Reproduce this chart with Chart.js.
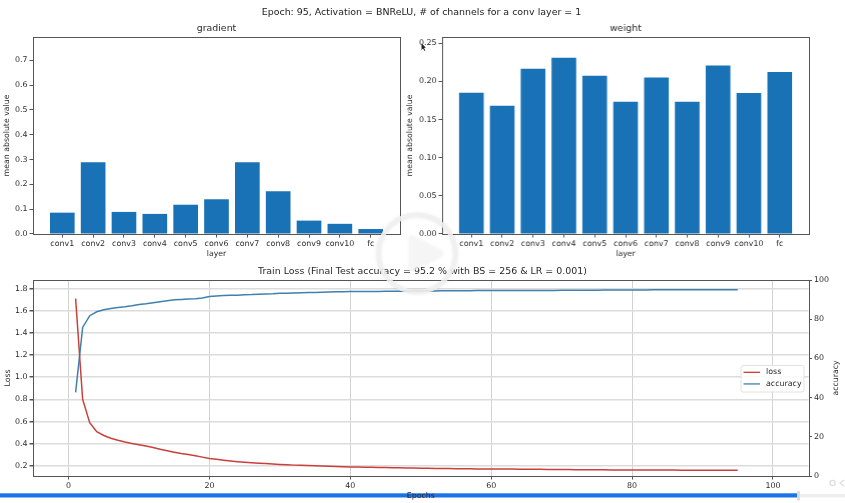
<!DOCTYPE html>
<html><head><meta charset="utf-8">
<script src="https://cdn.jsdelivr.net/npm/chart.js@4"></script>
<style>
html,body{margin:0;padding:0;background:#fff;width:845px;height:503px;overflow:hidden}
canvas{position:absolute;filter:blur(.35px)}
#sup{position:absolute;left:0;width:843px;top:5px;text-align:center;font:9.45px "DejaVu Sans";color:#222;line-height:14px;filter:blur(.3px)}
#ov,#under{position:absolute;left:0;top:0}
</style></head><body>
<svg id="under" width="845" height="503">
<rect x="798" y="494" width="47" height="3.5" fill="#eee"/>
<rect x="0" y="493.3" width="798" height="4.2" fill="#1a73e8"/>
<rect x="797" y="491" width="3" height="9.5" rx="1" fill="#dcdcdc"/>
<circle cx="832.5" cy="483" r="2.6" fill="none" stroke="#ddd" stroke-width="1.3"/>
<path d="M844 480 L840 483 L844 486" fill="none" stroke="#ddd" stroke-width="1.2"/>
</svg>
<div id="sup"></div>
<canvas id="c1"></canvas><canvas id="c2"></canvas><canvas id="c3"></canvas>
<svg id="ov" width="845" height="503">
<defs><filter id="s" x="-20%" y="-20%" width="140%" height="140%"><feGaussianBlur stdDeviation="1.6"/></filter></defs>
<circle cx="417" cy="253.5" r="38.5" fill="none" stroke="#000" stroke-opacity=".07" stroke-width="5" filter="url(#s)"/>
<circle cx="417" cy="253.5" r="38.5" fill="none" stroke="#f0f0f0" stroke-opacity=".88" stroke-width="4.5"/>
<path d="M409 239 Q409 234 414 236.5 L441 250 Q445 253.5 441 257 L414 270.5 Q409 273 409 268 Z" fill="#000" fill-opacity=".05" filter="url(#s)"/>
<path d="M409 239 Q409 234 414 236.5 L441 250 Q445 253.5 441 257 L414 270.5 Q409 273 409 268 Z" fill="#f5f5f5" fill-opacity=".72"/>
<path d="M421.5 43.5 L421.5 50 L423 48.6 L424.6 51 L425.3 50.4 L424 48 L425.8 47.6 Z" fill="#222"/>
</svg>
<script>
const supTitle = "Epoch: 95, Activation = BNReLU, # of channels for a conv layer = 1";
const lossTitle = "Train Loss (Final Test accuracy = 95.2 % with BS = 256 & LR = 0.001)";
const layers = ["conv1","conv2","conv3","conv4","conv5","conv6","conv7","conv8","conv9","conv10","fc"];
const gradientValues = [0.086,0.289,0.089,0.081,0.118,0.140,0.289,0.172,0.054,0.041,0.020];
const weightValues = [0.185,0.168,0.2164,0.2308,0.2072,0.1732,0.205,0.1732,0.2208,0.1845,0.212];
const lossValues = [1.71,0.80,0.59,0.51,0.475,0.45,0.432,0.416,0.403,0.392,
0.38,0.366,0.352,0.338,0.325,0.313,0.303,0.292,0.28,0.268,
0.26,0.252,0.245,0.239,0.234,0.23,0.226,0.222,0.218,0.214,
0.211,0.208,0.206,0.204,0.202,0.2,0.198,0.196,0.194,0.191,
0.19,0.189,0.188,0.187,0.186,0.185,0.184,0.183,0.182,0.18,
0.179,0.178,0.178,0.177,0.176,0.176,0.175,0.174,0.174,0.173,
0.173,0.172,0.172,0.171,0.171,0.17,0.17,0.169,0.169,0.168,
0.168,0.167,0.167,0.166,0.166,0.166,0.165,0.165,0.165,0.164,
0.164,0.164,0.163,0.163,0.163,0.163,0.162,0.162,0.162,0.162,
0.162,0.161,0.161,0.161,0.161];
const accuracyValues = [42.7,75.8,81.8,83.8,84.8,85.5,86.0,86.4,86.9,87.5,
87.9,88.4,88.9,89.4,89.9,90.1,90.3,90.5,90.8,91.6,
91.9,92.1,92.2,92.3,92.5,92.6,92.8,92.9,93.0,93.2,
93.3,93.4,93.5,93.6,93.7,93.8,93.9,94.0,94.0,94.1,
94.1,94.2,94.2,94.2,94.3,94.3,94.3,94.3,94.4,94.4,
94.4,94.4,94.5,94.5,94.5,94.5,94.5,94.6,94.6,94.6,
94.6,94.6,94.6,94.7,94.7,94.7,94.7,94.7,94.7,94.8,
94.8,94.8,94.8,94.8,94.8,94.9,94.9,94.9,94.9,94.9,
94.9,94.9,95.0,95.0,95.0,95.0,95.0,95.0,95.0,95.1,
95.1,95.1,95.1,95.1,95.1];
const xTicks100 = [0,20,40,60,80,100];

document.getElementById('sup').textContent = supTitle;
const INK = '#2a2a2a', EDGE = '#555', FONT = '"DejaVu Sans"';
const tickFont = {family:FONT,size:7.9}, labelFont = {family:FONT,size:7.8}, titleFont = {family:FONT,size:9.4,weight:'normal'};
Chart.defaults.animation = false;
Chart.defaults.responsive = false;
Chart.defaults.devicePixelRatio = 1;

const frame = {id:'frame',afterDraw(ch){const a=ch.chartArea,c=ch.ctx;c.save();c.strokeStyle=EDGE;c.lineWidth=1;
  c.strokeRect(Math.round(a.left)+.5,Math.round(a.top)+.5,Math.round(a.right-a.left),Math.round(a.bottom-a.top));c.restore();}};

function place(id,l,t,w,h){const c=document.getElementById(id);c.width=w;c.height=h;c.style.left=l+'px';c.style.top=t+'px';c.style.width=w+'px';c.style.height=h+'px';return c;}

function barPanel(id,left,title,values,yMax,yStep,dec,plotLeftW,plotW){
  const canvas=place(id,left,23,plotLeftW+plotW+6,239);
  new Chart(canvas,{type:'bar',
    data:{datasets:[{data:values.map((y,i)=>({x:i,y})),backgroundColor:'#1a72b6',barPercentage:.8,categoryPercentage:1}]},
    plugins:[frame],
    options:{layout:{padding:{right:6}},
      plugins:{legend:{display:false},tooltip:{enabled:false},
        title:{display:true,fullSize:false,text:title,color:INK,font:titleFont,padding:{top:0,bottom:2.7}}},
      scales:{
        x:{type:'linear',offset:false,min:-0.95,max:10.95,
          afterBuildTicks(s){s.ticks=layers.map((_,i)=>({value:i}));},
          afterFit(s){s.height=28;},
          grid:{drawOnChartArea:false,offset:false,tickLength:3.5,color:EDGE,tickColor:EDGE},border:{display:false},
          ticks:{autoSkip:false,maxRotation:0,color:INK,font:tickFont,padding:1.5,callback:(v)=>layers[v]},
          title:{display:true,text:'layer',color:INK,font:labelFont,padding:{top:0,bottom:3.5}}},
        y:{min:0,max:yMax,
          afterFit(s){s.width=plotLeftW;},
          grid:{drawOnChartArea:false,tickLength:3.5,color:EDGE,tickColor:EDGE},border:{display:false},
          ticks:{stepSize:yStep,includeBounds:false,color:INK,font:tickFont,padding:2,callback:v=>v.toFixed(dec)},
          title:{display:true,text:'mean absolute value',color:INK,font:labelFont,padding:{top:2,bottom:0}}}
      }}});
}
barPanel('c1',0,'gradient',gradientValues,0.794,0.1,1,33,367);
barPanel('c2',403,'weight',weightValues,0.258,0.05,2,39,366.5);

const legendAndRightTitle = {id:'lg',afterDraw(ch){const a=ch.chartArea,c=ch.ctx;c.save();
  c.fillStyle=INK;c.font='7.8px '+FONT;c.textAlign='center';c.textBaseline='middle';
  c.translate(a.right+27.5,(a.top+a.bottom)/2);c.rotate(-Math.PI/2);c.fillText('accuracy',0,0);c.restore();
  c.save();const x=a.right-67.5,y=a.top+85.5,w=63,h=26.5;
  c.beginPath();c.roundRect(x,y,w,h,2);c.fillStyle='rgba(255,255,255,.85)';c.fill();c.strokeStyle='#e2e2e2';c.lineWidth=1;c.stroke();
  c.font='7.9px '+FONT;c.textAlign='left';c.textBaseline='middle';
  ch.data.datasets.forEach((d,i)=>{const ly=y+6.8+i*11.6;
    c.strokeStyle=d.borderColor;c.lineWidth=1.3;c.beginPath();c.moveTo(x+2.5,ly);c.lineTo(x+19,ly);c.stroke();
    c.fillStyle=INK;c.fillText(d.label,x+25,ly);});
  c.restore();}};

new Chart(place('c3',0,265.5,845,237.5),{type:'line',
  data:{datasets:[
    {label:'loss',data:lossValues.map((y,i)=>({x:i+1,y})),yAxisID:'y',borderColor:'#c9403a',borderWidth:1.5,pointRadius:0,tension:0},
    {label:'accuracy',data:accuracyValues.map((y,i)=>({x:i+1,y})),yAxisID:'y2',borderColor:'#3f80ae',borderWidth:1.5,pointRadius:0,tension:0}
  ]},
  plugins:[frame,legendAndRightTitle],
  options:{
    plugins:{legend:{display:false},tooltip:{enabled:false},
      title:{display:true,text:lossTitle,color:INK,font:{family:FONT,size:9.45,weight:'normal'},padding:{top:0,bottom:2.7}}},
    scales:{
      x:{type:'linear',min:-5.05,max:105.05,
        afterBuildTicks(s){s.ticks=xTicks100.map(value=>({value}));},
        afterFit(s){s.height=27;},
        grid:{color:'#d2d2d2',lineWidth:1,tickLength:3.5,tickColor:EDGE},border:{display:false},
        ticks:{maxRotation:0,color:INK,font:tickFont,padding:1.5},
        title:{display:true,text:'Epochs',color:INK,font:labelFont,padding:{top:0,bottom:2}}},
      y:{min:0.11,max:1.876,position:'left',
        afterFit(s){s.width=33;},
        grid:{color:'#dcdcdc',lineWidth:1.5,tickLength:3.5,tickColor:EDGE},border:{display:false},
        ticks:{stepSize:0.2,includeBounds:false,color:INK,font:tickFont,padding:2,callback:v=>v.toFixed(1)},
        title:{display:true,text:'Loss',color:INK,font:labelFont,padding:{top:3,bottom:0}}},
      y2:{min:0,max:100,position:'right',
        afterFit(s){s.width=36.5;},
        grid:{drawOnChartArea:false,tickLength:3.5,color:EDGE,tickColor:EDGE},border:{display:false},
        ticks:{stepSize:20,color:INK,font:tickFont,padding:2}}
    }}});
</script>
</body></html>
